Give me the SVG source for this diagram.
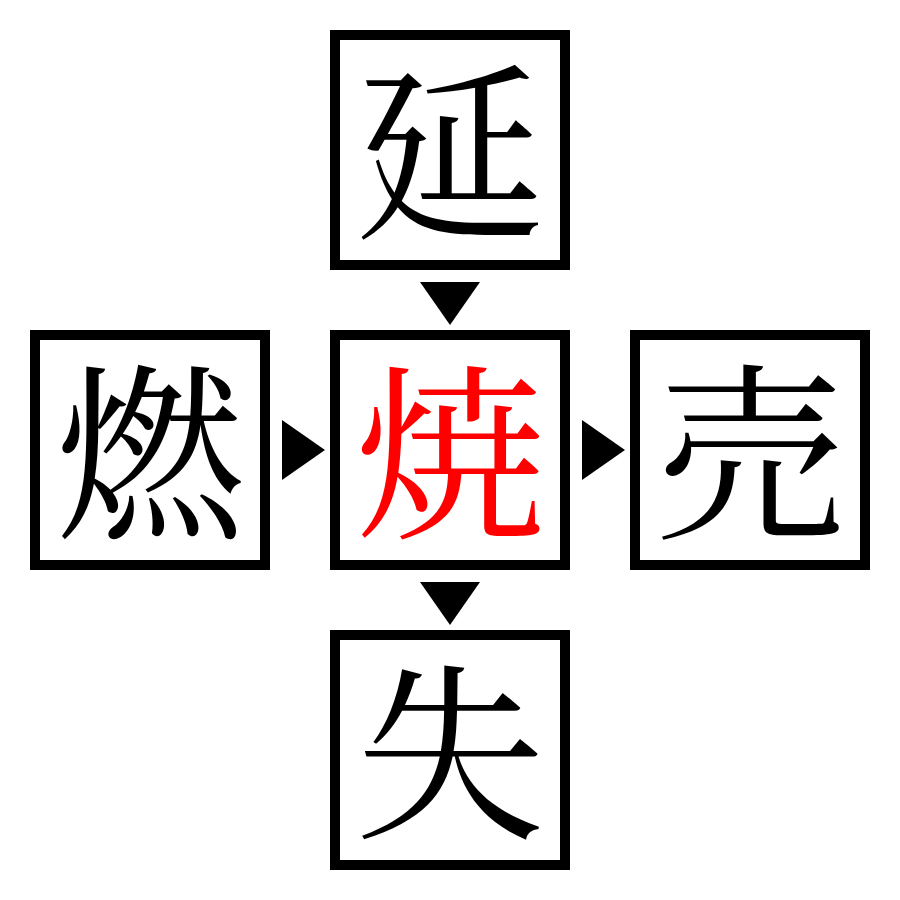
<svg xmlns="http://www.w3.org/2000/svg" width="900" height="900" viewBox="0 0 900 900">
<style>
.box{fill:#fff;stroke:#000;stroke-width:10}
.ch{font-family:"Noto Serif CJK JP","Noto Sans CJK JP",serif;font-size:190px;text-anchor:middle;fill:#000}
.hl{fill:#f00}
.arr{fill:#000}
</style>
<rect width="900" height="900" fill="#fff"/>
<g id="connectors">
<polygon class="arr" points="420,282 480,282 450,325"/>
<polygon class="arr" points="282,420 325,450 282,480"/>
<polygon class="arr" points="582,420 625,450 582,480"/>
<polygon class="arr" points="420,582 480,582 450,625"/>
</g>
<g id="node-top"><rect class="box" x="335" y="35" width="230" height="230"/><text class="ch" x="450" y="224">延</text></g>
<g id="node-left"><rect class="box" x="35" y="335" width="230" height="230"/><text class="ch" x="150" y="524">燃</text></g>
<g id="node-center"><rect class="box" x="335" y="335" width="230" height="230"/><text class="ch hl" x="450" y="524">焼</text></g>
<g id="node-right"><rect class="box" x="635" y="335" width="230" height="230"/><text class="ch" x="750" y="524">売</text></g>
<g id="node-bottom"><rect class="box" x="335" y="635" width="230" height="230"/><text class="ch" x="450" y="824">失</text></g>
</svg>
